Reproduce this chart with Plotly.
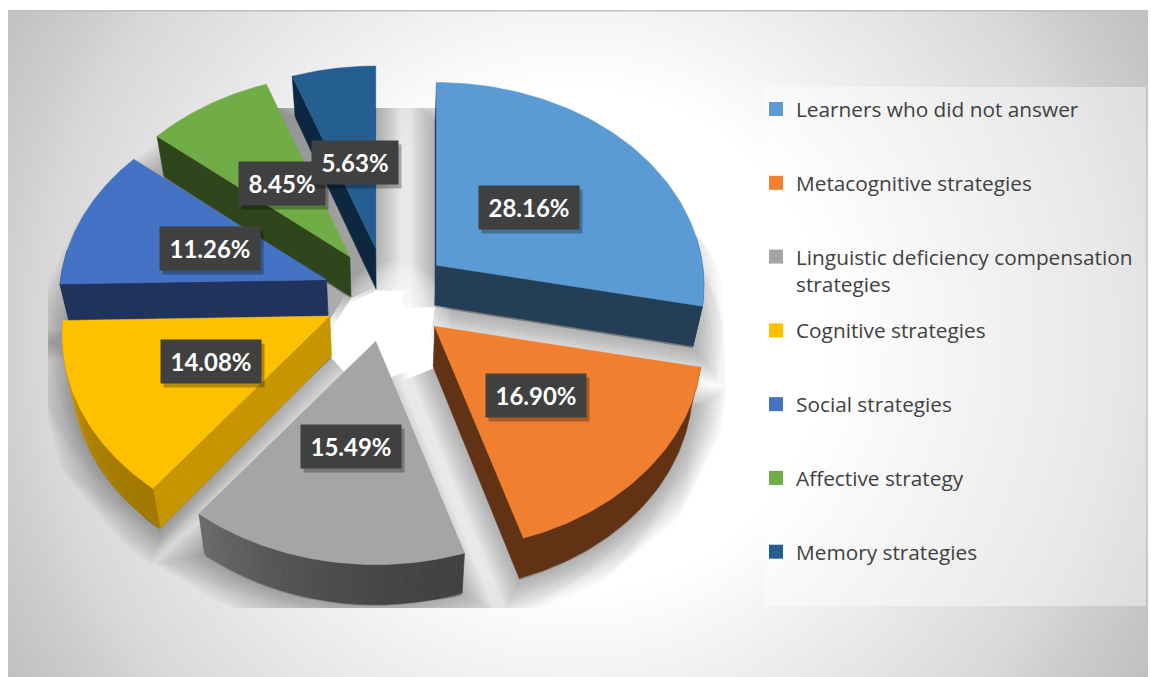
import base64
import numpy as np
import plotly.graph_objects as go

# ---- data ----
categories = ["Learners who did not answer", "Metacognitive strategies",
              "Linguistic deficiency compensation<br>strategies", "Cognitive strategies",
              "Social strategies", "Affective strategy", "Memory strategies"]
values = [28.16, 16.90, 15.49, 14.08, 11.26, 8.45, 5.63]
top_colors = ["#5B9BD5", "#F07F30", "#A5A5A5", "#FFC000", "#4472C4", "#70AD47", "#255E91"]
face_colors = ["#243E55", "#613214", "#4A4A4A", "#C69500", "#1F335C", "#2F451B", "#0E2741"]
arc_from = ["#243E55", "#613214", "#424242", "#A27900", "#1F335C", "#2F451B", "#0E2741"]
arc_to = ["#243E55", "#613214", "#6A6A6A", "#DDA600", "#1F335C", "#2F451B", "#0E2741"]
draw_order = [6, 5, 0, 4, 3, 1, 2]

# ---- projection of the exploded tilted disc onto the axes ----
W, H = 1151, 677
CX, CY = 387, 295
EX, EY = 64, 47
RX, RY = 266, 203
PERSP, DEPTH, SKEW = 0.10, 40, 0.03
LABEL_F = 0.48

total = sum(values)
edges = np.cumsum([0] + values) / total * 2 * np.pi


def apex(i):
    m = (edges[i] + edges[i + 1]) / 2
    return CX + EX * np.sin(m), CY - EY * np.cos(m)


def rim(i, t, f=1.0):
    ax, ay = apex(i)
    s = 1 - PERSP * np.cos(t)
    return ax + f * RX * s * np.sin(t), ay - f * RY * s * np.cos(t)


def down(x, y):
    x = np.asarray(x, float)
    y = np.asarray(y, float)
    return x + (CX - x) * SKEW, y + DEPTH


def mix(a, b, f):
    pa = [int(a[k:k + 2], 16) for k in (1, 3, 5)]
    pb = [int(b[k:k + 2], 16) for k in (1, 3, 5)]
    return "rgb(%d,%d,%d)" % tuple(round(p + (q - p) * f) for p, q in zip(pa, pb))


def poly(x, y, color, line=0.6, axes=2):
    return go.Scatter(x=list(x) + [x[0]], y=list(y) + [y[0]], mode="lines", fill="toself",
                      fillcolor=color, line=dict(color=color, width=line),
                      hoverinfo="skip", showlegend=False,
                      xaxis="x2" if axes == 2 else "x", yaxis="y2" if axes == 2 else "y")


fig = go.Figure()

# soft shadows (clipped by the smaller first subplot)
for width in range(66, 2, -4):
    col = "rgba(0,0,0,0.02)"
    for i in range(len(values)):
        t = np.linspace(edges[i], edges[i + 1], 50)
        rx, ry = rim(i, t)
        ax, ay = apex(i)
        x = np.r_[ax, rx]
        y = np.r_[ay, ry]
        bx, by = down(x, y)
        fig.add_trace(poly(bx, by + 2, col, width, axes=1))
for size in range(112, 8, -6):
    fig.add_trace(go.Scatter(x=[CX + 8], y=[CY + 22], mode="markers", hoverinfo="skip", showlegend=False,
                             marker=dict(size=size, color="rgba(255,255,255,0.1)", line=dict(width=0))))

# the slices, back to front
for i in draw_order:
    ax, ay = apex(i)
    t = np.linspace(edges[i], edges[i + 1], 80)
    rx, ry = rim(i, t)
    bax, bay = down(ax, ay)
    visible = []
    if np.sin(edges[i]) <= 1e-9:
        visible.append(0)
    if np.sin(edges[i + 1]) > 1e-9:
        visible.append(-1)
    for e in visible:
        ex, ey = down(rx[e], ry[e])
        fig.add_trace(poly([ax, rx[e], ex, bax], [ay, ry[e], ey, bay], face_colors[i]))
    front = t[np.cos(t) < 0.15]
    if len(front) > 1:
        n = 36 if arc_from[i] != arc_to[i] else 1
        bands = np.linspace(front[0], front[-1], n + 1)
        for b in range(n):
            tt = np.linspace(bands[b], bands[b + 1], 6 if n > 1 else 80)
            ux, uy = rim(i, tt)
            lx, ly = down(ux, uy)
            col = mix(arc_from[i], arc_to[i], (b / max(n - 1, 1)) ** 1.8)
            fig.add_trace(poly(np.r_[ux, lx[::-1]], np.r_[uy, ly[::-1]], col))
    fig.add_trace(poly(np.r_[ax, rx], np.r_[ay, ry], top_colors[i], 0.5))

# legend
for i, name in enumerate(categories):
    lines = name if "<br>" in name else name + "<br>\u00a0"
    fig.add_trace(go.Scatter(x=[None], y=[None], mode="markers", name=lines, legendgroup="g%d" % i,
                             marker=dict(symbol="square", size=14, color=top_colors[i]),
                             xaxis="x2", yaxis="y2", hoverinfo="skip"))

# value labels
annotations = []
for i, v in enumerate(values):
    m = (edges[i] + edges[i + 1]) / 2
    lx, ly = rim(i, m, LABEL_F)
    text = "%.2f%%" % v
    common = dict(x=lx, y=ly, xref="x2", yref="y2", showarrow=False, width=14 * len(text) + 14, height=41)
    annotations.append(dict(common, text=" ", bgcolor="rgba(0,0,0,0.28)", xshift=3, yshift=-4))
    annotations.append(dict(common, text="<b>%s</b>" % text, bgcolor="#404040",
                            font=dict(family="Lato", size=24, color="white")))

svg = f'''<svg xmlns="http://www.w3.org/2000/svg" width="{W}" height="{H}">
<defs><radialGradient id="g" gradientUnits="userSpaceOnUse" cx="575" cy="340" r="660">
<stop offset="0" stop-color="#ffffff"/><stop offset="0.38" stop-color="#ffffff"/>
<stop offset="0.52" stop-color="#f2f2f2"/><stop offset="0.81" stop-color="#d8d8d8"/>
<stop offset="0.87" stop-color="#cfcfcf"/><stop offset="1" stop-color="#c0c0c0"/></radialGradient></defs>
<rect x="8" y="10" width="1140" height="667" fill="url(#g)"/>
<rect x="8" y="10" width="1140" height="1.5" fill="#bdbdbd"/></svg>'''
uri = "data:image/svg+xml;base64," + base64.b64encode(svg.encode()).decode()

hidden = dict(visible=False, showgrid=False, zeroline=False, fixedrange=True)
fig.update_layout(
    width=W, height=H, margin=dict(l=0, r=0, t=0, b=0), autosize=False,
    paper_bgcolor="white", plot_bgcolor="rgba(0,0,0,0)",
    images=[dict(source=uri, xref="paper", yref="paper", x=0, y=1, sizex=1, sizey=1,
                 sizing="stretch", xanchor="left", yanchor="top", layer="below")],
    shapes=[dict(type="rect", xref="paper", yref="paper", x0=765 / W, x1=1146 / W,
                 y0=1 - 606 / H, y1=1 - 87 / H, fillcolor="rgba(255,255,255,0.42)",
                 line=dict(width=0), layer="below")],
    xaxis=dict(hidden, domain=[48 / W, 725 / W], range=[48, 725]),
    yaxis=dict(hidden, domain=[1 - 608 / H, 1 - 108 / H], range=[608, 108]),
    xaxis2=dict(hidden, domain=[0, 1], range=[0, W], anchor="y2"),
    yaxis2=dict(hidden, domain=[0, 1], range=[H, 0], anchor="x2"),
    annotations=annotations,
    showlegend=True,
    legend=dict(x=756 / W, y=1 - 89 / H, xanchor="left", yanchor="top", bgcolor="rgba(0,0,0,0)",
                tracegroupgap=16.7, traceorder="grouped", valign="top",
                font=dict(family="Open Sans", size=20.8, color="#404040")),
)
fig.write_html("out.html", config=dict(displayModeBar=False),
               post_script="document.body.style.margin='0';document.body.style.overflow='hidden';")
